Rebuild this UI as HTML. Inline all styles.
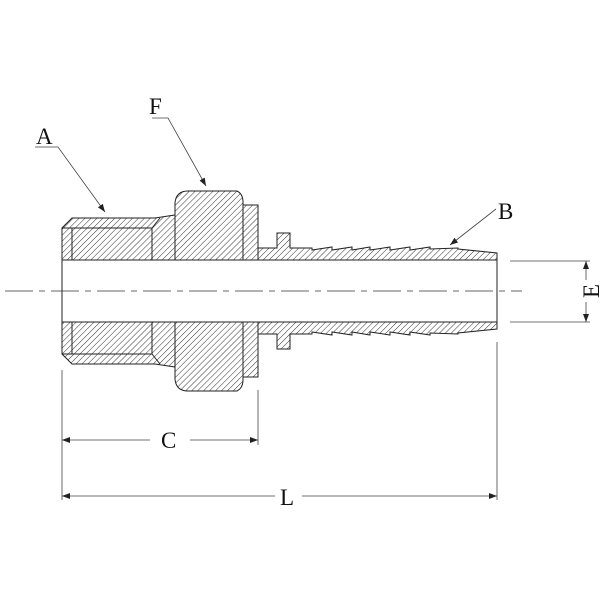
<!DOCTYPE html>
<html><head><meta charset="utf-8"><style>
html,body{margin:0;padding:0;background:#fff}
svg{display:block}
text{font-family:"Liberation Serif",serif;fill:#111}
</style></head><body>
<svg width="600" height="600" viewBox="0 0 600 600" xmlns="http://www.w3.org/2000/svg">
<defs>
<pattern id="h" patternUnits="userSpaceOnUse" width="4.2" height="4.2" patternTransform="rotate(45)">
<line x1="0" y1="0" x2="0" y2="4.2" stroke="#333" stroke-width="1"/>
</pattern>
<marker id="ar" markerWidth="8" markerHeight="6" refX="8" refY="3" orient="auto" markerUnits="userSpaceOnUse">
<path d="M0,0 L8,3 L0,6 z" fill="#222"/>
</marker>
</defs>
<g fill="url(#h)" stroke="#222" stroke-width="1">
<polygon points="62,260 62,228 72,218 155,218 175,215 175,260"/>
<polygon points="62,322 62,354 72,364 155,364 175,367 175,322"/>
<path d="M175,260 L175,203 Q176,191 188,191 L237,191 Q243,194 243,202 L243,260 Z"/>
<path d="M175,322 L175,379 Q176,391 188,391 L237,391 Q243,388 243,380 L243,322 Z"/>
<rect x="243" y="205" width="15" height="55"/>
<rect x="243" y="322" width="15" height="55"/>
<polygon points="258,260 258,248 277,248 277,233 290,233 290,248 312,248 312,250 332,247 332,250 352,247 352,250 370,247 370,250 390,247 390,250 410,247 410,250 430,247 430,249 458,248 458,249 497,253 497,260"/>
<polygon points="258,322 258,334 277,334 277,349 290,349 290,334 312,334 312,332 332,335 332,332 352,335 352,332 370,335 370,332 390,335 390,332 410,335 410,332 430,335 430,333 458,334 458,333 497,329 497,322"/>
</g>
<g stroke="#222" stroke-width="1" fill="none">
<polyline points="72,260 72,228 152,228 152,260"/>
<line x1="62" y1="228" x2="72" y2="228"/>
<line x1="152" y1="228" x2="160" y2="218"/>
<polyline points="72,322 72,354 152,354 152,322"/>
<line x1="62" y1="354" x2="72" y2="354"/>
<line x1="152" y1="354" x2="160" y2="364"/>
<line x1="62" y1="260" x2="497" y2="260"/>
<line x1="62" y1="322" x2="497" y2="322"/>
<line x1="62" y1="260" x2="62" y2="322"/>
<line x1="497" y1="253" x2="497" y2="329"/>
<line x1="5" y1="291" x2="522" y2="291" stroke="#333" stroke-dasharray="28,6,6,6" stroke-width="0.8"/>
</g>
<g stroke="#444" stroke-width="0.8" fill="none">
<line x1="62" y1="370" x2="62" y2="500"/>
<line x1="258" y1="390" x2="258" y2="445"/>
<line x1="497" y1="342" x2="497" y2="500"/>
<line x1="510" y1="261" x2="590" y2="261"/>
<line x1="510" y1="322" x2="590" y2="322"/>
<line x1="150" y1="440" x2="62" y2="440" marker-end="url(#ar)"/>
<line x1="190" y1="440" x2="258" y2="440" marker-end="url(#ar)"/>
<line x1="275" y1="496" x2="62" y2="496" marker-end="url(#ar)"/>
<line x1="302" y1="496" x2="497" y2="496" marker-end="url(#ar)"/>
<line x1="586" y1="280" x2="586" y2="261" marker-end="url(#ar)"/>
<line x1="586" y1="302" x2="586" y2="322" marker-end="url(#ar)"/>
<polyline points="35,147 58,147 105,212" marker-end="url(#ar)"/>
<polyline points="152,118 168,118 206,186" marker-end="url(#ar)"/>
<line x1="496" y1="209" x2="450" y2="245" marker-end="url(#ar)"/>
</g>
<g font-size="23">
<text x="36" y="144">A</text>
<text x="149" y="114">F</text>
<text x="498" y="219">B</text>
<text x="161" y="448">C</text>
<text x="280" y="505">L</text>
<text x="0" y="0" transform="translate(599,291) rotate(-90)" text-anchor="middle">E</text>
</g>
</svg>
</body></html>
